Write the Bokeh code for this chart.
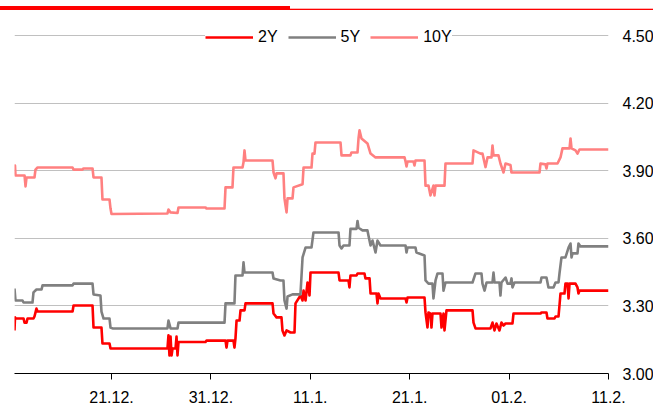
from bokeh.plotting import figure
from bokeh.models import (Range1d, FixedTicker, NumeralTickFormatter, Legend,
                          LegendItem, Div)
from bokeh.layouts import column
from bokeh.embed import file_html
from bokeh.resources import INLINE

# ---------------- data ----------------
# x = day index on the chart's evenly spaced date axis (21.12. = 10, ..., 11.2. = 60)
tick_positions = [10, 20, 30, 40, 50, 60]
tick_labels = ["21.12.", "31.12.", "11.1.", "21.1.", "01.2.", "11.2."]
y_ticks = [3.00, 3.30, 3.60, 3.90, 4.20, 4.50]

series_names = ["2Y", "5Y", "10Y"]
series_colors = ["#ff0000", "#808080", "#ff8080"]

yield_2y = [
    (0.24, 3.191), (0.29, 3.249), (0.34, 3.244), (1.15, 3.244), (1.25, 3.226), (1.45, 3.226),
    (1.55, 3.244), (2.15, 3.244), (2.25, 3.253), (2.45, 3.288), (2.56, 3.275), (6.08, 3.275),
    (6.18, 3.302), (8.09, 3.302), (8.19, 3.204), (8.99, 3.204), (9.09, 3.133), (9.80, 3.133),
    (9.90, 3.111), (15.63, 3.111), (15.73, 3.169), (15.83, 3.080), (15.94, 3.164), (16.04, 3.080),
    (16.14, 3.111), (16.44, 3.111), (16.54, 3.164), (16.64, 3.080), (16.74, 3.140), (19.46, 3.140),
    (19.56, 3.146), (21.47, 3.146), (21.57, 3.115), (21.67, 3.146), (22.27, 3.146), (22.37, 3.115),
    (22.47, 3.155), (22.58, 3.235), (22.88, 3.235), (22.98, 3.280), (23.38, 3.280), (23.48, 3.311),
    (26.20, 3.311), (26.30, 3.266), (26.60, 3.249), (27.10, 3.249), (27.20, 3.191), (27.40, 3.169),
    (27.61, 3.191), (28.01, 3.182), (28.41, 3.182), (28.51, 3.311), (29.01, 3.346), (29.22, 3.324),
    (29.32, 3.368), (29.52, 3.324), (29.72, 3.404), (29.92, 3.346), (30.02, 3.448), (32.84, 3.448),
    (32.94, 3.413), (33.84, 3.413), (33.94, 3.382), (34.04, 3.435), (34.65, 3.435), (34.75, 3.444),
    (35.45, 3.444), (35.55, 3.422), (35.96, 3.422), (36.06, 3.355), (36.66, 3.355), (36.76, 3.311),
    (36.86, 3.355), (37.06, 3.333), (39.58, 3.333), (39.68, 3.315), (39.78, 3.337), (41.49, 3.337),
    (41.59, 3.271), (41.79, 3.204), (41.89, 3.271), (42.09, 3.266), (42.19, 3.204), (42.29, 3.266),
    (43.10, 3.266), (43.20, 3.204), (43.40, 3.266), (43.50, 3.191), (43.70, 3.280), (46.32, 3.280),
    (46.42, 3.226), (46.62, 3.200), (48.13, 3.200), (48.33, 3.226), (48.53, 3.191), (48.73, 3.222),
    (49.03, 3.191), (49.23, 3.226), (49.44, 3.213), (49.64, 3.222), (50.34, 3.222), (50.44, 3.266),
    (53.16, 3.266), (53.26, 3.271), (53.76, 3.271), (53.86, 3.244), (54.57, 3.244), (54.67, 3.253),
    (54.97, 3.253), (55.07, 3.302), (55.17, 3.355), (55.57, 3.355), (55.67, 3.399), (55.88, 3.399),
    (55.98, 3.333), (56.08, 3.399), (56.68, 3.399), (56.88, 3.382), (56.98, 3.355), (57.08, 3.368),
    (60.0, 3.368),
]

yield_5y = [
    (0.24, 3.377), (0.34, 3.324), (1.05, 3.324), (1.15, 3.315), (2.05, 3.315), (2.15, 3.360),
    (2.45, 3.373), (2.96, 3.373), (3.06, 3.391), (6.08, 3.391), (6.18, 3.399), (8.09, 3.399),
    (8.19, 3.351), (8.89, 3.346), (8.99, 3.275), (9.20, 3.244), (9.80, 3.244), (9.90, 3.204),
    (10.10, 3.200), (15.63, 3.200), (15.73, 3.235), (15.94, 3.200), (16.64, 3.200), (16.74, 3.226),
    (21.37, 3.226), (21.47, 3.311), (22.37, 3.311), (22.47, 3.435), (23.18, 3.435), (23.28, 3.493),
    (23.38, 3.448), (26.20, 3.448), (26.30, 3.422), (27.00, 3.413), (27.30, 3.413), (27.40, 3.324),
    (27.61, 3.288), (27.71, 3.342), (28.21, 3.351), (29.01, 3.351), (29.22, 3.515), (29.52, 3.559),
    (30.12, 3.559), (30.32, 3.626), (32.84, 3.626), (32.94, 3.568), (33.14, 3.555), (33.34, 3.568),
    (33.94, 3.568), (34.04, 3.642), (34.65, 3.642), (34.75, 3.677), (34.85, 3.647), (35.25, 3.635),
    (35.75, 3.635), (35.85, 3.612), (36.06, 3.568), (36.26, 3.590), (36.56, 3.537), (36.76, 3.590),
    (37.06, 3.568), (39.58, 3.568), (39.68, 3.537), (39.78, 3.559), (40.58, 3.559), (40.68, 3.537),
    (41.49, 3.524), (41.59, 3.413), (41.89, 3.399), (42.29, 3.399), (42.39, 3.333), (42.60, 3.413),
    (42.80, 3.444), (43.30, 3.444), (43.40, 3.368), (43.60, 3.404), (46.32, 3.404), (46.62, 3.444),
    (47.22, 3.444), (47.32, 3.399), (47.53, 3.368), (47.73, 3.404), (48.33, 3.404), (48.43, 3.448),
    (48.53, 3.404), (49.03, 3.404), (49.13, 3.346), (49.23, 3.404), (49.64, 3.426), (49.84, 3.399),
    (50.14, 3.399), (50.24, 3.422), (50.34, 3.382), (50.54, 3.404), (53.16, 3.404), (53.26, 3.426),
    (53.76, 3.426), (53.96, 3.382), (54.47, 3.382), (54.67, 3.404), (54.97, 3.404), (55.07, 3.444),
    (55.27, 3.515), (55.67, 3.515), (55.98, 3.559), (56.18, 3.577), (56.28, 3.515), (56.38, 3.533),
    (56.88, 3.533), (56.98, 3.577), (57.18, 3.564), (60.0, 3.564),
]

yield_10y = [
    (0.24, 3.883), (0.29, 3.923), (0.34, 3.879), (1.25, 3.879), (1.35, 3.830), (1.45, 3.870),
    (2.25, 3.870), (2.35, 3.905), (2.56, 3.914), (6.08, 3.914), (6.18, 3.905), (7.08, 3.905),
    (7.18, 3.910), (8.09, 3.910), (8.19, 3.870), (8.99, 3.870), (9.09, 3.772), (9.80, 3.772),
    (9.90, 3.732), (10.0, 3.708), (15.63, 3.710), (15.73, 3.728), (15.94, 3.715), (16.64, 3.712),
    (16.74, 3.737), (19.46, 3.737), (19.56, 3.732), (21.37, 3.732), (21.47, 3.826), (22.17, 3.826),
    (22.27, 3.914), (23.18, 3.914), (23.28, 3.937), (23.38, 3.990), (23.48, 3.945), (26.20, 3.945),
    (26.30, 3.892), (26.50, 3.866), (26.60, 3.888), (27.30, 3.888), (27.40, 3.777), (27.61, 3.715),
    (27.71, 3.777), (28.21, 3.777), (28.31, 3.826), (29.22, 3.840), (29.32, 3.914), (30.12, 3.914),
    (30.22, 3.976), (30.42, 3.976), (30.52, 4.025), (33.04, 4.025), (33.14, 3.968), (34.04, 3.968),
    (34.14, 3.981), (34.75, 3.981), (34.85, 4.043), (34.95, 4.079), (35.15, 4.043), (35.75, 4.021),
    (36.06, 3.976), (36.56, 3.959), (39.48, 3.959), (39.58, 3.941), (39.68, 3.919), (39.78, 3.941),
    (40.38, 3.941), (40.48, 3.923), (40.58, 3.945), (41.49, 3.945), (41.59, 3.834), (41.89, 3.834),
    (42.09, 3.790), (42.39, 3.834), (42.49, 3.790), (42.60, 3.834), (43.50, 3.834), (43.60, 3.932),
    (46.32, 3.932), (46.42, 3.990), (47.12, 3.976), (47.32, 3.976), (47.63, 3.916), (47.83, 3.959),
    (48.23, 3.959), (48.33, 4.012), (48.43, 3.968), (48.93, 3.968), (49.13, 3.932), (49.44, 3.892),
    (49.64, 3.932), (50.14, 3.925), (50.24, 3.892), (50.44, 3.892), (53.06, 3.892), (53.16, 3.932),
    (53.66, 3.928), (53.76, 3.910), (53.86, 3.932), (54.87, 3.932), (55.17, 3.959), (55.37, 3.999),
    (56.08, 3.999), (56.18, 4.043), (56.28, 3.999), (56.68, 3.990), (56.88, 3.976), (57.08, 3.994),
    (60.0, 3.994),
]

all_series = [yield_2y, yield_5y, yield_10y]

FONT = "Liberation Sans"
W = 653

# ---------------- top accent bar (decoration, inline svg) ----------------
bar = Div(
    text=('<svg xmlns="http://www.w3.org/2000/svg" width="653" height="12" '
          'style="display:block">'
          '<rect x="0" y="6" width="290" height="4" fill="#ff0000"/>'
          '<rect x="290" y="8.7" width="363" height="1.3" fill="#ff0000"/>'
          '</svg>'),
    width=W, height=12, margin=(0, 0, 0, 0),
    styles={"width": "653px", "min-width": "653px", "overflow": "visible"},
)

# ---------------- main figure ----------------
p = figure(
    frame_width=594, frame_height=350,
    x_range=Range1d(0.24, 60), y_range=Range1d(3.0, 4.5533),
    y_axis_location="right",
    output_backend="svg", toolbar_location=None,
    min_border_left=14, min_border_right=45, min_border_top=11, min_border_bottom=45,
    margin=(0, 0, 0, 0),
)
p.outline_line_color = None
p.background_fill_color = "white"
p.border_fill_color = "white"

renderers = []
for pts, color in zip(all_series, series_colors):
    xs = [a for a, b in pts]
    ys = [b for a, b in pts]
    r = p.line(xs, ys, line_color=color, line_width=2.6, line_join="round")
    renderers.append(r)

# x axis
p.xaxis.ticker = FixedTicker(ticks=tick_positions)
p.xaxis.major_label_overrides = {t: l for t, l in zip(tick_positions, tick_labels)}
p.xaxis.axis_line_color = "black"
p.xaxis.axis_line_width = 1
p.xaxis.major_tick_line_color = "black"
p.xaxis.major_tick_out = 6
p.xaxis.major_tick_in = 0
p.xaxis.minor_tick_line_color = None
p.xaxis.major_label_text_font = FONT
p.xaxis.major_label_text_font_size = "16px"
p.xaxis.major_label_text_color = "black"
p.xaxis.major_label_standoff = 11
p.xgrid.grid_line_color = None

# y axis (right)
p.yaxis.ticker = FixedTicker(ticks=y_ticks)
p.yaxis.formatter = NumeralTickFormatter(format="0.00")
p.yaxis.axis_line_color = None
p.yaxis.major_tick_line_color = None
p.yaxis.major_tick_out = 0
p.yaxis.major_tick_in = 0
p.yaxis.minor_tick_line_color = None
p.yaxis.major_label_text_font = FONT
p.yaxis.major_label_text_font_size = "16px"
p.yaxis.major_label_text_color = "black"
p.yaxis.major_label_standoff = 14
p.ygrid.ticker = FixedTicker(ticks=y_ticks)
p.ygrid.grid_line_color = "#c0c0c0"
p.ygrid.grid_line_width = 1

# legend
legend = Legend(
    items=[LegendItem(label=n, renderers=[r]) for n, r in zip(series_names, renderers)],
    orientation="horizontal",
    location=(191, 327),
    glyph_width=48, glyph_height=16,
    label_height=16, label_width=0,
    label_standoff=5, spacing=10, padding=4, margin=0,
    label_text_font=FONT, label_text_font_size="16px", label_text_color="black",
    background_fill_color="white", background_fill_alpha=1.0,
    border_line_color=None,
)
p.add_layout(legend)

layout = column(bar, p, spacing=0, margin=(0, 0, 0, 0))

open("out.html", "w").write(file_html(layout, INLINE))
